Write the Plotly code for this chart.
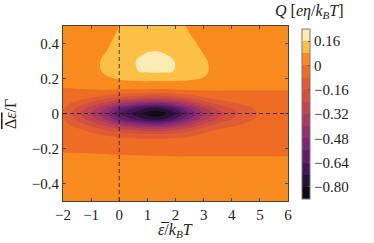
import plotly.graph_objects as go

# ---- data ----
eps = [-2, -1.5, -1, -0.5, 0, 0.5, 1, 1.25, 1.5, 2, 2.5, 3, 3.5, 4, 4.5, 5, 6]
delta = [-0.5, -0.4, -0.3, -0.24, -0.18, -0.15, -0.12, -0.09, -0.06, -0.03, 0,
         0.03, 0.06, 0.09, 0.12, 0.15, 0.18, 0.24, 0.30, 0.36, 0.42, 0.50]

# Q values: one row per delta value (bottom to top), one column per eps value
q_grid = [
    [0.045] * 17,
    [0.040] * 17,
    [0.022] * 17,
    [0.008, 0.007, 0.005, 0.004, 0.002, 0.001, 0.0, -0.001, -0.001, -0.002, -0.002, -0.002, -0.002, -0.002, -0.002, -0.002, -0.002],
    [-0.019, -0.019, -0.020, -0.0245, -0.0265, -0.028, -0.029, -0.029, -0.029, -0.028, -0.027, -0.022, -0.021, -0.021, -0.021, -0.021, -0.021],
    [-0.028, -0.029, -0.034, -0.0455, -0.053, -0.059, -0.063, -0.064, -0.063, -0.058, -0.050, -0.035, -0.030, -0.0285, -0.028, -0.028, -0.028],
    [-0.036, -0.042, -0.059, -0.089, -0.113, -0.129, -0.141, -0.145, -0.143, -0.126, -0.102, -0.0645, -0.045, -0.039, -0.036, -0.035, -0.035],
    [-0.045, -0.069, -0.111, -0.170, -0.227, -0.266, -0.295, -0.305, -0.2985, -0.259, -0.202, -0.1275, -0.080, -0.060, -0.048, -0.043, -0.041],
    [-0.057, -0.119, -0.197, -0.286, -0.3935, -0.465, -0.520, -0.538, -0.526, -0.453, -0.346, -0.2325, -0.150, -0.103, -0.072, -0.053, -0.046],
    [-0.071, -0.180, -0.288, -0.398, -0.554, -0.657, -0.738, -0.764, -0.7465, -0.6405, -0.485, -0.345, -0.235, -0.160, -0.104, -0.0645, -0.049],
    [-0.077, -0.209, -0.329, -0.445, -0.622, -0.739, -0.830, -0.860, -0.840, -0.720, -0.544, -0.395, -0.276, -0.189, -0.121, -0.070, -0.050],
    [-0.069, -0.174, -0.280, -0.389, -0.541, -0.642, -0.721, -0.747, -0.729, -0.626, -0.474, -0.335, -0.227, -0.155, -0.1005, -0.063, -0.048],
    [-0.049, -0.103, -0.174, -0.259, -0.357, -0.421, -0.472, -0.488, -0.477, -0.411, -0.313, -0.206, -0.130, -0.089, -0.061, -0.046, -0.040],
    [-0.0305, -0.047, -0.079, -0.125, -0.169, -0.200, -0.224, -0.232, -0.2266, -0.195, -0.1485, -0.088, -0.052, -0.040, -0.0327, -0.029, -0.028],
    [-0.0154, -0.017, -0.021, -0.032, -0.0427, -0.0506, -0.0592, -0.061, -0.059, -0.0468, -0.0323, -0.018, -0.010, -0.008, -0.0066, -0.006, -0.006],
    [0.003, 0.0065, 0.015, 0.027, 0.034, 0.034, 0.033, 0.032, 0.032, 0.035, 0.039, 0.030, 0.019, 0.013, 0.009, 0.008, 0.008],
    [0.020, 0.026, 0.045, 0.062, 0.070, 0.072, 0.072, 0.071, 0.071, 0.072, 0.071, 0.070, 0.048, 0.032, 0.024, 0.021, 0.020],
    [0.032, 0.038, 0.058, 0.088, 0.118, 0.155, 0.168, 0.172, 0.170, 0.158, 0.127, 0.092, 0.058, 0.042, 0.036, 0.034, 0.033],
    [0.040, 0.045, 0.062, 0.090, 0.125, 0.155, 0.183, 0.190, 0.185, 0.158, 0.125, 0.088, 0.060, 0.048, 0.042, 0.040, 0.040],
    [0.045, 0.048, 0.058, 0.077, 0.100, 0.135, 0.155, 0.158, 0.155, 0.135, 0.105, 0.075, 0.058, 0.050, 0.046, 0.045, 0.045],
    [0.048, 0.049, 0.055, 0.070, 0.090, 0.120, 0.137, 0.140, 0.137, 0.118, 0.088, 0.065, 0.055, 0.050, 0.048, 0.048, 0.048],
    [0.050, 0.050, 0.052, 0.062, 0.080, 0.103, 0.118, 0.120, 0.118, 0.100, 0.072, 0.058, 0.053, 0.050, 0.050, 0.050, 0.050],
]

level_start, level_end, level_step = -0.80, 0.16, 0.08
cbar_min, cbar_max = -0.88, 0.24

# band colours, from the lowest band (< -0.80) to the highest (> 0.16)
band_colors = [
    "#0f0819", "#2a0f37", "#441655", "#5f1e69", "#7a2676", "#94306c", "#aa3a5f",
    "#c04450", "#d2503e", "#e05c35", "#ee6c24", "#f88a1e", "#fdc046", "#fdebb5",
]

x_ticks = [-2, -1, 0, 1, 2, 3, 4, 5, 6]
x_ticktext = ["\u22122", "\u22121", "0", "1", "2", "3", "4", "5", "6"]
y_ticks = [-0.4, -0.2, 0, 0.2, 0.4]
y_ticktext = ["\u22120.4", "\u22120.2", "0", "0.2", "0.4"]
cbar_ticks = [0.16, 0, -0.16, -0.32, -0.48, -0.64, -0.80]
cbar_ticktext = ["0.16", "0", "\u22120.16", "\u22120.32", "\u22120.48", "\u22120.64", "\u22120.80"]

FONT = "Liberation Serif"
TXT = "#222222"

n = len(band_colors)
contour_scale = [[k / (n - 1), c] for k, c in enumerate(band_colors)]
step_scale = []
for k, c in enumerate(band_colors):
    step_scale.append([k / n, c])
    step_scale.append([(k + 1) / n, c])

fig = go.Figure()
fig.add_trace(go.Contour(
    x=eps, y=delta, z=q_grid,
    colorscale=contour_scale, showscale=False,
    contours=dict(start=level_start, end=level_end, size=level_step, coloring="fill"),
    line=dict(width=0, smoothing=1.0),
    hoverinfo="skip",
))
# colour bar (stepped, like the reference)
fig.add_trace(go.Scatter(
    x=[eps[0]], y=[delta[0]], mode="markers", showlegend=False, hoverinfo="skip",
    marker=dict(size=1, opacity=0, color=[cbar_min], cmin=cbar_min, cmax=cbar_max,
                colorscale=step_scale, showscale=True,
                colorbar=dict(
                    x=1.062, xanchor="left", xpad=0, ypad=0,
                    y=0.497, yanchor="middle",
                    thickness=8, thicknessmode="pixels",
                    len=170, lenmode="pixels",
                    outlinewidth=1, outlinecolor="#777777",
                    ticks="inside", ticklen=2, tickcolor="#555555",
                    tickvals=cbar_ticks, ticktext=cbar_ticktext,
                    tickfont=dict(family=FONT, size=15, color=TXT),
                )),
))

fig.add_vline(x=0, line=dict(color="rgba(30,15,15,0.8)", width=1, dash="4px,3px"))
fig.add_hline(y=0, line=dict(color="rgba(30,15,15,0.8)", width=1, dash="4px,3px"))

axis_common = dict(showgrid=False, zeroline=False, showline=True, linecolor="#444444",
                   linewidth=1, mirror="ticks", ticks="inside", ticklen=3,
                   tickcolor="#444444", tickfont=dict(family=FONT, size=15, color=TXT))

fig.update_xaxes(range=[-2, 6], tickvals=x_ticks, ticktext=x_ticktext, **axis_common)
fig.update_yaxes(range=[-0.5, 0.5], tickvals=y_ticks, ticktext=y_ticktext, **axis_common)

# axis titles and colour-bar title
fig.add_annotation(
    text="<i>\u03b5\u0305</i>/<i>k</i><sub><i>B</i></sub><i>T</i>",
    xref="paper", yref="paper", x=0.498, y=-0.171, xanchor="center", yanchor="middle",
    showarrow=False, font=dict(family=FONT, size=16, color=TXT),
)
fig.add_annotation(
    text="<span style='text-decoration:overline'>\u0394<i>\u03b5</i></span>/\u0393",
    xref="paper", yref="paper", x=-0.2356, y=0.497, xanchor="center", yanchor="middle",
    textangle=-90, showarrow=False, font=dict(family=FONT, size=16, color=TXT),
)
fig.add_annotation(
    text="<i>Q</i> [<i>e\u03b7</i>/<i>k</i><sub><i>B</i></sub><i>T</i>]",
    xref="paper", yref="paper", x=0.933, y=1.08, xanchor="left", yanchor="middle",
    showarrow=False, font=dict(family=FONT, size=16, color=TXT),
)

fig.update_layout(
    width=374, height=243,
    margin=dict(l=63, r=86, t=26, b=42, autoexpand=False),
    paper_bgcolor="white", plot_bgcolor="white",
    showlegend=False,
)

fig.write_html("out.html", config={"displayModeBar": False},
               post_script="document.body.style.margin='0';")
